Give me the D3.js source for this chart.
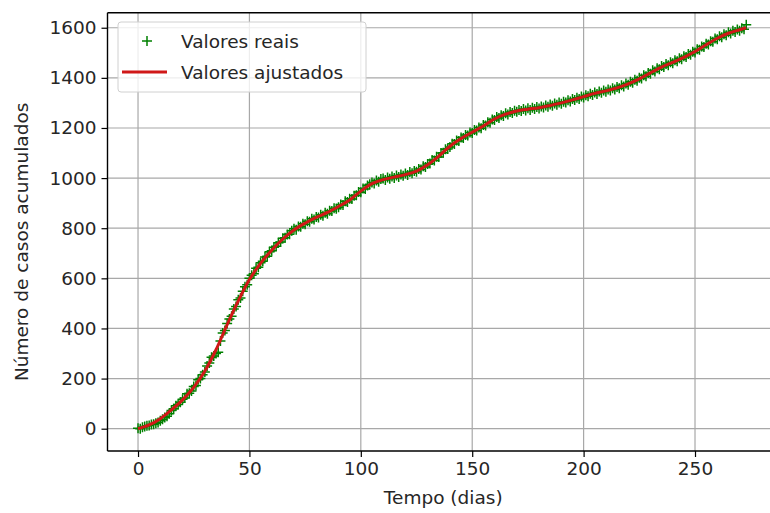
<!DOCTYPE html>
<html>
<head>
<meta charset="utf-8">
<script src="https://cdn.jsdelivr.net/npm/d3@7"></script>
<style>
  html, body { margin: 0; padding: 0; background: #fff; }
  svg { display: block; font-family: "DejaVu Sans", sans-serif; }
</style>
</head>
<body>
<svg id="chart" width="770" height="513"></svg>
<script>
// ---------- DATA ----------
const realValues = [
  2, 0, 6, 9, 12, 13, 17, 18, 22, 25,
  32, 38, 45, 50, 60, 73, 80, 92, 97, 106,
  118, 122, 139, 141, 150, 168, 172, 195, 200, 215,
  226, 250, 262, 285, 290, 300, 305, 350, 382, 392,
  420, 438, 449, 478, 488, 515, 522, 548, 566, 574,
  600, 612, 618, 640, 644, 662, 668, 685, 688, 706,
  710, 724, 728, 742, 745, 760, 762, 775, 776, 790,
  798, 794, 807, 806, 818, 816, 828, 826, 838, 835,
  845, 843, 854, 850, 862, 858, 870, 869, 880, 878,
  884, 895, 893, 908, 905, 918, 917, 930, 932, 945,
  944, 958, 956, 970, 975, 982, 978, 990, 985, 996,
  998, 992, 1002, 997, 1006, 1000, 1010, 1004, 1014, 1009,
  1018, 1012, 1024, 1019, 1028, 1025, 1036, 1034, 1047, 1044,
  1056, 1058, 1072, 1070, 1085, 1084, 1100, 1101, 1115, 1116,
  1124, 1137, 1136, 1150, 1148, 1162, 1160, 1172, 1170, 1182,
  1180, 1192, 1190, 1202, 1199, 1212, 1210, 1223, 1221, 1234,
  1232, 1244, 1240, 1251, 1248, 1259, 1254, 1264, 1260, 1269,
  1265, 1272, 1268, 1276, 1270, 1279, 1272, 1281, 1276, 1284,
  1278, 1286, 1282, 1290, 1285, 1294, 1289, 1298, 1293, 1302,
  1297, 1305, 1302, 1311, 1306, 1316, 1312, 1321, 1316, 1326,
  1322, 1331, 1327, 1337, 1332, 1342, 1336, 1346, 1341, 1350,
  1345, 1354, 1350, 1359, 1354, 1364, 1359, 1370, 1366, 1377,
  1372, 1384, 1380, 1392, 1388, 1400, 1397, 1410, 1406, 1419,
  1416, 1430, 1425, 1438, 1434, 1447, 1443, 1455, 1450, 1462,
  1458, 1470, 1466, 1478, 1474, 1486, 1483, 1495, 1492, 1504,
  1501, 1514, 1512, 1525, 1523, 1536, 1533, 1546, 1544, 1557,
  1554, 1566, 1562, 1574, 1570, 1582, 1577, 1588, 1583, 1593,
  1588, 1598, 1594, 1612
];
const realDays = realValues.map((_, i) => i);

const fitDays = [0, 5, 10, 15, 20, 25, 30, 35, 40, 45, 50, 55, 60, 65, 70, 75, 80, 85, 90, 95,
  100, 105, 110, 115, 120, 125, 130, 135, 140, 145, 150, 155, 160, 165, 170, 175, 180, 185, 190, 195,
  200, 205, 210, 215, 220, 225, 230, 235, 240, 245, 250, 255, 260, 265, 270, 273];
const fitValues = [0, 15, 40, 75, 115, 165, 230, 315, 415, 510, 595, 660, 712, 757, 793, 820, 843, 863, 887, 913,
  948, 978, 994, 1004, 1014, 1028, 1053, 1088, 1127, 1158, 1183, 1208, 1236, 1255, 1268, 1275, 1281, 1290, 1300, 1312,
  1325, 1338, 1348, 1360, 1376, 1396, 1420, 1443, 1462, 1482, 1505, 1532, 1558, 1578, 1592, 1600];

const xTicks = [0, 50, 100, 150, 200, 250];
const yTicks = [0, 200, 400, 600, 800, 1000, 1200, 1400, 1600];
const xLabel = "Tempo (dias)";
const yLabel = "Número de casos acumulados";
const legendLabels = ["Valores reais", "Valores ajustados"];

// ---------- LAYOUT ----------
const plot = { left: 107.5, top: 12.7, right: 779, bottom: 451 };
const svg = d3.select("#chart");

const x = d3.scaleLinear().domain([-13.7, 287.7]).range([plot.left, plot.right]);
const y = d3.scaleLinear().domain([-89, 1660]).range([plot.bottom, plot.top]);

const clipId = "plotclip";
svg.append("defs").append("clipPath").attr("id", clipId)
  .append("rect").attr("x", plot.left).attr("y", plot.top)
  .attr("width", plot.right - plot.left).attr("height", plot.bottom - plot.top);

// grid
const gridColor = "#a8a8a8";
const grid = svg.append("g").attr("clip-path", `url(#${clipId})`);
grid.selectAll("line.gx").data(xTicks).join("line").attr("class", "gx")
  .attr("x1", d => x(d)).attr("x2", d => x(d))
  .attr("y1", plot.top).attr("y2", plot.bottom)
  .attr("stroke", gridColor).attr("stroke-width", 1.2);
grid.selectAll("line.gy").data(yTicks).join("line").attr("class", "gy")
  .attr("x1", plot.left).attr("x2", plot.right)
  .attr("y1", d => y(d)).attr("y2", d => y(d))
  .attr("stroke", gridColor).attr("stroke-width", 1.2);

// axes
const fontSize = 18.5;
const xAxis = d3.axisBottom(x).tickValues(xTicks).tickSize(6).tickPadding(5).tickFormat(d3.format("d"));
const yAxis = d3.axisLeft(y).tickValues(yTicks).tickSize(6).tickPadding(5).tickFormat(d3.format("d"));

const gx = svg.append("g").attr("transform", `translate(0,${plot.bottom})`).call(xAxis);
const gy = svg.append("g").attr("transform", `translate(${plot.left},0)`).call(yAxis);
[gx, gy].forEach(g => {
  g.select(".domain").remove();
  g.selectAll(".tick line").attr("stroke", "#000").attr("stroke-width", 1.2);
  g.selectAll(".tick text").attr("fill", "#262626").style("font-size", fontSize + "px")
    .style("font-family", "'DejaVu Sans', sans-serif");
});

// spines
const spine = (x1, y1, x2, y2) => svg.append("line")
  .attr("x1", x1).attr("y1", y1).attr("x2", x2).attr("y2", y2)
  .attr("stroke", "#000").attr("stroke-width", 1.4);
spine(plot.left, plot.top, plot.left, plot.bottom);
spine(plot.left, plot.bottom, plot.right, plot.bottom);
spine(plot.left, plot.top, plot.right, plot.top);
spine(plot.right, plot.top, plot.right, plot.bottom);

// markers
const plus = "M-5,0H5M0,-5V5";
const data = realDays.map((d, i) => ({ d, v: realValues[i] }));
svg.append("g").attr("clip-path", `url(#${clipId})`)
  .selectAll("path").data(data).join("path")
  .attr("d", plus)
  .attr("transform", p => `translate(${x(p.d)},${y(p.v)})`)
  .attr("stroke", "#008000").attr("stroke-width", 1.5).attr("fill", "none");

// fitted line
const lineColor = "#d01818";
const fit = fitDays.map((d, i) => ({ d, v: fitValues[i] }));
const line = d3.line().x(p => x(p.d)).y(p => y(p.v)).curve(d3.curveMonotoneX);
svg.append("path").datum(fit).attr("d", line)
  .attr("fill", "none").attr("stroke", lineColor).attr("stroke-width", 3)
  .attr("clip-path", `url(#${clipId})`);

// axis labels
svg.append("text").attr("x", x((-13.7 + 287.7) / 2)).attr("y", 504)
  .attr("text-anchor", "middle").attr("fill", "#262626")
  .style("font-size", fontSize + "px").text(xLabel);
svg.append("text")
  .attr("transform", `translate(28,${(plot.top + plot.bottom) / 2 + 10}) rotate(-90)`)
  .attr("text-anchor", "middle").attr("fill", "#262626")
  .style("font-size", fontSize + "px").text(yLabel);

// legend
const lg = svg.append("g");
lg.append("rect").attr("x", 118).attr("y", 22).attr("width", 248).attr("height", 70)
  .attr("rx", 3).attr("fill", "rgba(255,255,255,0.8)").attr("stroke", "#d0d0d0").attr("stroke-width", 1);
lg.append("path").attr("d", plus).attr("transform", "translate(147,41)")
  .attr("stroke", "#008000").attr("stroke-width", 1.5).attr("fill", "none");
lg.append("line").attr("x1", 122).attr("x2", 167).attr("y1", 72).attr("y2", 72)
  .attr("stroke", lineColor).attr("stroke-width", 3);
lg.append("text").attr("x", 181).attr("y", 48).attr("fill", "#262626")
  .style("font-size", fontSize + "px").text(legendLabels[0]);
lg.append("text").attr("x", 181).attr("y", 79).attr("fill", "#262626")
  .style("font-size", fontSize + "px").text(legendLabels[1]);
</script>
</body>
</html>
